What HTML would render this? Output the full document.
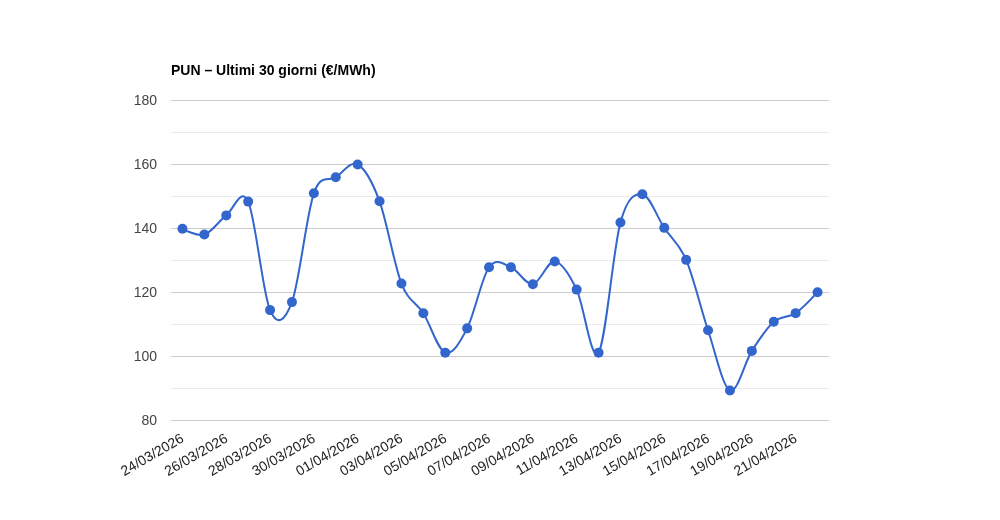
<!DOCTYPE html><html><head><meta charset="utf-8"><title>PUN</title><style>html,body{margin:0;padding:0;background:#fff}svg{display:block}text{font-family:"Liberation Sans",Arial,sans-serif}</style></head><body>
<svg width="1000" height="520" viewBox="0 0 1000 520">
<rect x="0" y="0" width="1000" height="520" fill="#ffffff"/>
<text x="171" y="75.05" font-size="14" font-weight="bold" fill="#000000">PUN – Ultimi 30 giorni (€/MWh)</text>
<rect x="171" y="420" width="658" height="1" fill="#cccccc"/>
<rect x="171" y="356" width="658" height="1" fill="#cccccc"/>
<rect x="171" y="292" width="658" height="1" fill="#cccccc"/>
<rect x="171" y="228" width="658" height="1" fill="#cccccc"/>
<rect x="171" y="164" width="658" height="1" fill="#cccccc"/>
<rect x="171" y="100" width="658" height="1" fill="#cccccc"/>
<rect x="171" y="388" width="658" height="1" fill="#ebebeb"/>
<rect x="171" y="324" width="658" height="1" fill="#ebebeb"/>
<rect x="171" y="260" width="658" height="1" fill="#ebebeb"/>
<rect x="171" y="196" width="658" height="1" fill="#ebebeb"/>
<rect x="171" y="132" width="658" height="1" fill="#ebebeb"/>
<path d="M182.45,228.82C182.45,228.82,197.05,236.82,204.35,234.58C211.65,232.34,218.95,220.87,226.25,215.38C233.55,209.89,240.85,185.83,248.15,201.62C255.45,217.41,262.75,293.35,270.05,310.10C277.35,326.85,284.65,321.57,291.95,302.10C299.25,282.63,306.55,214.10,313.85,193.30C321.15,172.50,328.45,182.10,335.75,177.30C343.05,172.50,350.35,160.50,357.65,164.50C364.95,168.50,372.25,181.46,379.55,201.30C386.85,221.14,394.15,264.87,401.45,283.54C408.75,302.21,416.05,301.78,423.35,313.30C430.65,324.82,437.95,350.15,445.25,352.66C452.55,355.17,459.85,342.58,467.15,328.34C474.45,314.10,481.75,277.41,489.05,267.22C496.35,257.03,503.65,264.39,510.95,267.22C518.25,270.05,525.55,285.14,532.85,284.18C540.15,283.22,547.45,260.55,554.75,261.46C562.05,262.37,569.35,274.42,576.65,289.62C583.95,304.82,591.25,363.86,598.55,352.66C605.85,341.46,613.15,248.82,620.45,222.42C627.75,196.02,635.05,193.35,642.35,194.26C649.65,195.17,656.95,216.93,664.25,227.86C671.55,238.79,678.85,242.79,686.15,259.86C693.45,276.93,700.75,308.50,708.05,330.26C715.35,352.02,722.65,386.98,729.95,390.42C737.25,393.86,744.55,362.34,751.85,350.90C759.15,339.46,766.45,328.07,773.75,321.78C781.05,315.49,788.35,318.07,795.65,313.14C802.95,308.21,817.55,292.18,817.55,292.18" fill="none" stroke="#3366cc" stroke-width="2"/>
<circle cx="182.45" cy="228.82" r="5.0" fill="#3366cc"/>
<circle cx="204.35" cy="234.58" r="5.0" fill="#3366cc"/>
<circle cx="226.25" cy="215.38" r="5.0" fill="#3366cc"/>
<circle cx="248.15" cy="201.62" r="5.0" fill="#3366cc"/>
<circle cx="270.05" cy="310.10" r="5.0" fill="#3366cc"/>
<circle cx="291.95" cy="302.10" r="5.0" fill="#3366cc"/>
<circle cx="313.85" cy="193.30" r="5.0" fill="#3366cc"/>
<circle cx="335.75" cy="177.30" r="5.0" fill="#3366cc"/>
<circle cx="357.65" cy="164.50" r="5.0" fill="#3366cc"/>
<circle cx="379.55" cy="201.30" r="5.0" fill="#3366cc"/>
<circle cx="401.45" cy="283.54" r="5.0" fill="#3366cc"/>
<circle cx="423.35" cy="313.30" r="5.0" fill="#3366cc"/>
<circle cx="445.25" cy="352.66" r="5.0" fill="#3366cc"/>
<circle cx="467.15" cy="328.34" r="5.0" fill="#3366cc"/>
<circle cx="489.05" cy="267.22" r="5.0" fill="#3366cc"/>
<circle cx="510.95" cy="267.22" r="5.0" fill="#3366cc"/>
<circle cx="532.85" cy="284.18" r="5.0" fill="#3366cc"/>
<circle cx="554.75" cy="261.46" r="5.0" fill="#3366cc"/>
<circle cx="576.65" cy="289.62" r="5.0" fill="#3366cc"/>
<circle cx="598.55" cy="352.66" r="5.0" fill="#3366cc"/>
<circle cx="620.45" cy="222.42" r="5.0" fill="#3366cc"/>
<circle cx="642.35" cy="194.26" r="5.0" fill="#3366cc"/>
<circle cx="664.25" cy="227.86" r="5.0" fill="#3366cc"/>
<circle cx="686.15" cy="259.86" r="5.0" fill="#3366cc"/>
<circle cx="708.05" cy="330.26" r="5.0" fill="#3366cc"/>
<circle cx="729.95" cy="390.42" r="5.0" fill="#3366cc"/>
<circle cx="751.85" cy="350.90" r="5.0" fill="#3366cc"/>
<circle cx="773.75" cy="321.78" r="5.0" fill="#3366cc"/>
<circle cx="795.65" cy="313.14" r="5.0" fill="#3366cc"/>
<circle cx="817.55" cy="292.18" r="5.0" fill="#3366cc"/>
<text x="157" y="425.40" text-anchor="end" font-size="14" fill="#444444">80</text>
<text x="157" y="361.40" text-anchor="end" font-size="14" fill="#444444">100</text>
<text x="157" y="297.40" text-anchor="end" font-size="14" fill="#444444">120</text>
<text x="157" y="233.40" text-anchor="end" font-size="14" fill="#444444">140</text>
<text x="157" y="169.40" text-anchor="end" font-size="14" fill="#444444">160</text>
<text x="157" y="105.40" text-anchor="end" font-size="14" fill="#444444">180</text>
<text x="184.85" y="441.10" text-anchor="end" font-size="14" fill="#222222" transform="rotate(-30 184.85 441.10)">24/03/2026</text>
<text x="228.65" y="441.10" text-anchor="end" font-size="14" fill="#222222" transform="rotate(-30 228.65 441.10)">26/03/2026</text>
<text x="272.45" y="441.10" text-anchor="end" font-size="14" fill="#222222" transform="rotate(-30 272.45 441.10)">28/03/2026</text>
<text x="316.25" y="441.10" text-anchor="end" font-size="14" fill="#222222" transform="rotate(-30 316.25 441.10)">30/03/2026</text>
<text x="360.05" y="441.10" text-anchor="end" font-size="14" fill="#222222" transform="rotate(-30 360.05 441.10)">01/04/2026</text>
<text x="403.85" y="441.10" text-anchor="end" font-size="14" fill="#222222" transform="rotate(-30 403.85 441.10)">03/04/2026</text>
<text x="447.65" y="441.10" text-anchor="end" font-size="14" fill="#222222" transform="rotate(-30 447.65 441.10)">05/04/2026</text>
<text x="491.45" y="441.10" text-anchor="end" font-size="14" fill="#222222" transform="rotate(-30 491.45 441.10)">07/04/2026</text>
<text x="535.25" y="441.10" text-anchor="end" font-size="14" fill="#222222" transform="rotate(-30 535.25 441.10)">09/04/2026</text>
<text x="579.05" y="441.10" text-anchor="end" font-size="14" fill="#222222" transform="rotate(-30 579.05 441.10)">11/04/2026</text>
<text x="622.85" y="441.10" text-anchor="end" font-size="14" fill="#222222" transform="rotate(-30 622.85 441.10)">13/04/2026</text>
<text x="666.65" y="441.10" text-anchor="end" font-size="14" fill="#222222" transform="rotate(-30 666.65 441.10)">15/04/2026</text>
<text x="710.45" y="441.10" text-anchor="end" font-size="14" fill="#222222" transform="rotate(-30 710.45 441.10)">17/04/2026</text>
<text x="754.25" y="441.10" text-anchor="end" font-size="14" fill="#222222" transform="rotate(-30 754.25 441.10)">19/04/2026</text>
<text x="798.05" y="441.10" text-anchor="end" font-size="14" fill="#222222" transform="rotate(-30 798.05 441.10)">21/04/2026</text>
</svg></body></html>
